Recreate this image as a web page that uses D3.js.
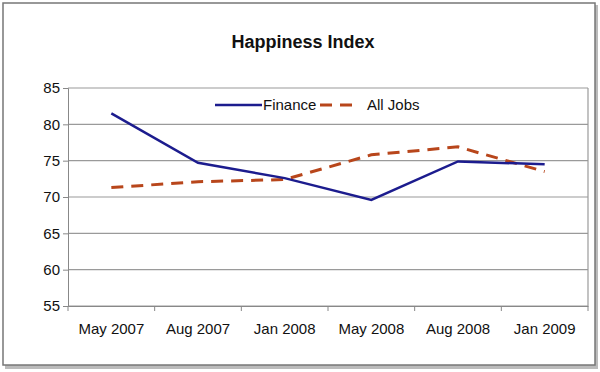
<!DOCTYPE html>
<html><head><meta charset="utf-8">
<script src="https://cdn.jsdelivr.net/npm/d3@7"></script>
<style>
body{margin:0;background:#fff;}
text{font-family:"Liberation Sans Narrow","Arial Narrow","Liberation Sans",Arial,sans-serif;}
</style></head>
<body><svg id="c" width="600" height="372"></svg>
<script>
const categories = ["May 2007","Aug 2007","Jan 2008","May 2008","Aug 2008","Jan 2009"];
const finance = [81.5, 74.7, 72.6, 69.6, 74.9, 74.5];
const allJobs = [71.3, 72.1, 72.4, 75.8, 76.9, 73.5];
const yTicks = [55,60,65,70,75,80,85];
const seriesNames = ["Finance","All Jobs"];

const svg = d3.select("#c");
// outer frame with shadow
svg.append("rect").attr("x",5).attr("y",5).attr("width",593).attr("height",364).attr("fill","#bbb");
svg.append("rect").attr("x",3).attr("y",3).attr("width",592).attr("height",362).attr("fill","#fff").attr("stroke","#777").attr("stroke-width",1.5);

const m = {l:68, r:588, t:88, b:306};
const x = d3.scaleBand().domain(categories).range([m.l, m.r]);
const y = d3.scaleLinear().domain([55,85]).range([m.b, m.t]);

// gridlines
svg.append("g").selectAll("line").data(yTicks).join("line")
  .attr("x1",m.l).attr("x2",m.r).attr("y1",d=>y(d)).attr("y2",d=>y(d))
  .attr("stroke","#9a9a9a").attr("stroke-width",1.2);
// right border
svg.append("line").attr("x1",m.r).attr("x2",m.r).attr("y1",m.t).attr("y2",m.b).attr("stroke","#9a9a9a").attr("stroke-width",1.2);

// y axis
const ya = svg.append("g").attr("transform",`translate(${m.l},0)`)
  .call(d3.axisLeft(y).tickValues(yTicks).tickSize(5).tickPadding(3));
ya.select(".domain").attr("stroke","#888");
ya.selectAll(".tick line").attr("stroke","#888");
ya.selectAll("text").attr("font-size",15).attr("fill","#111");

// x axis
const xa = svg.append("g").attr("transform",`translate(0,${m.b})`)
  .call(d3.axisBottom(x).tickSize(0).tickPadding(17));
xa.select(".domain").attr("stroke","#888");
xa.selectAll("text").attr("font-size",15).attr("fill","#111");
xa.selectAll(".tick line").remove();
const bounds = categories.map(c=>x(c)).concat([m.r]);
svg.append("g").selectAll("line").data(bounds).join("line")
  .attr("x1",d=>d).attr("x2",d=>d).attr("y1",m.b).attr("y2",m.b+5).attr("stroke","#888");

const line = d3.line().x((d,i)=>x(categories[i])+x.bandwidth()/2).y(d=>y(d));
svg.append("path").datum(allJobs).attr("d",line).attr("fill","none")
  .attr("stroke","#b8461b").attr("stroke-width",3).attr("stroke-dasharray","12,8");
svg.append("path").datum(finance).attr("d",line).attr("fill","none")
  .attr("stroke","#1c1c8e").attr("stroke-width",2.5);

// title
svg.append("text").attr("x",303).attr("y",48).attr("text-anchor","middle")
  .attr("font-size",18).attr("font-weight","bold").attr("fill","#111").text("Happiness Index");

// legend
const lg = svg.append("g");
lg.append("line").attr("x1",215).attr("x2",262).attr("y1",105).attr("y2",105).attr("stroke","#1c1c8e").attr("stroke-width",2.5);
lg.append("text").attr("x",263).attr("y",110).attr("font-size",15).attr("fill","#111").text(seriesNames[0]);
lg.append("line").attr("x1",320).attr("x2",360).attr("y1",105).attr("y2",105).attr("stroke","#b8461b").attr("stroke-width",3).attr("stroke-dasharray","12,8");
lg.append("text").attr("x",367).attr("y",110).attr("font-size",15).attr("fill","#111").text(seriesNames[1]);
</script></body></html>
